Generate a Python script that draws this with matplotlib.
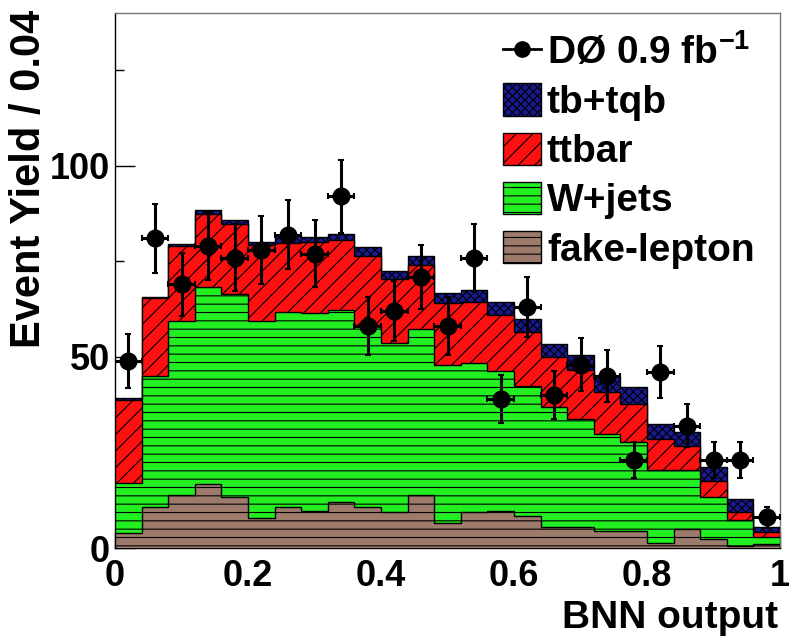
import numpy as np
import matplotlib
matplotlib.use("Agg")
import matplotlib.pyplot as plt
from matplotlib.patches import Patch
from matplotlib.lines import Line2D

# =========================================================
# Data (25 bins of BNN output, width 0.04)
# =========================================================
bin_lo, bin_hi, n_bins = 0.0, 1.0, 25

fake_lepton = [4.0, 10.7, 14.0, 16.8, 13.3, 7.9, 10.7, 9.6, 12.0, 10.7, 9.4, 14.0, 6.5,
               9.3, 9.8, 8.5, 5.6, 5.6, 4.5, 4.5, 1.2, 5.0, 2.4, 0.6, 1.0]
wjets = [13.1, 34.3, 45.4, 51.4, 53.1, 51.5, 51.1, 51.8, 50.3, 47.6, 44.3, 43.3, 41.5,
         39.1, 36.5, 34.0, 31.3, 28.2, 25.4, 23.2, 19.1, 15.3, 10.9, 6.7, 1.8]
ttbar = [21.7, 20.3, 19.6, 19.3, 18.4, 19.9, 18.0, 18.6, 18.2, 18.2, 16.7, 16.8, 16.2,
         16.0, 14.6, 14.0, 13.1, 12.7, 10.9, 9.9, 8.3, 6.3, 4.2, 2.0, 1.3]
tb_tqb = [0.4, 0.5, 0.5, 1.0, 1.1, 0.7, 2.2, 1.3, 1.7, 2.2, 2.2, 2.4, 2.4,
          3.0, 3.5, 3.5, 3.4, 3.9, 4.1, 4.5, 3.9, 3.7, 3.8, 3.5, 1.3]

data_counts = [49, 81, 69, 79, 76, 78, 82, 77, 92, 58, 62, 71, 58,
               76, 39, 63, 40, 48, 45, 23, 46, 32, 23, 23, 8]
data_err = [7.0, 9.0, 8.3, 8.9, 8.7, 8.8, 9.1, 8.8, 9.6, 7.6, 7.9, 8.4, 7.6,
            8.7, 6.2, 7.9, 6.3, 6.9, 6.7, 4.8, 6.8, 5.7, 4.8, 4.8, 2.8]

xtick_vals = [0, 0.2, 0.4, 0.6, 0.8, 1.0]
xtick_labels = ["0", "0.2", "0.4", "0.6", "0.8", "1"]
ytick_vals = [0, 50, 100]
ytick_labels = ["0", "50", "100"]

# =========================================================
# Style
# =========================================================
plt.rcParams["font.family"] = ["Liberation Sans", "DejaVu Sans"]
plt.rcParams["font.weight"] = "bold"
plt.rcParams["hatch.linewidth"] = 0.8
plt.rcParams["mathtext.fontset"] = "custom"
plt.rcParams["mathtext.rm"] = "Liberation Sans:bold"
plt.rcParams["mathtext.default"] = "rm"

C_FAKE = "#9c7a6c"
C_W = "#22ee22"
C_TT = "#ff1010"
C_TB = "#1a1a90"

edges = np.linspace(bin_lo, bin_hi, n_bins + 1)
centers = 0.5 * (edges[:-1] + edges[1:])
half_w = 0.5 * (edges[1] - edges[0])

layers = [
    (fake_lepton, C_FAKE, "--", "fake-lepton"),
    (wjets, C_W, "--", "W+jets"),
    (ttbar, C_TT, "//", "ttbar"),
    (tb_tqb, C_TB, "xxxx", "tb+tqb"),
]
cum = np.cumsum([np.array(l[0]) for l in layers], axis=0)

fig = plt.figure(figsize=(7.9, 6.4), dpi=100)
ax = fig.add_axes([115 / 790, 1 - 548 / 640, 665 / 790, 535 / 640])

# draw from the top of the stack downwards
for i in range(len(layers) - 1, -1, -1):
    vals, col, hatch, _ = layers[i]
    ax.stairs(cum[i], edges, baseline=0, fill=True, facecolor=col,
              edgecolor="black", hatch=hatch, linewidth=1.0, zorder=2 + (4 - i))

ax.errorbar(centers, data_counts, yerr=data_err, xerr=half_w, fmt="o",
            color="black", ms=12, elinewidth=2.2, capsize=2.5, capthick=1.5,
            zorder=10)

ax.set_xlim(bin_lo, bin_hi)
ax.set_ylim(0, 140)
ax.set_xticks(xtick_vals)
ax.set_xticklabels(xtick_labels)
ax.set_xticks(np.arange(0.1, 1.0, 0.2), minor=True)
ax.set_yticks(ytick_vals)
ax.set_yticklabels(ytick_labels)
ax.set_yticks([25, 75, 125], minor=True)

ax.tick_params(axis="x", which="major", direction="in", length=11.5, width=1,
               labelsize=26, pad=8)
ax.tick_params(axis="x", which="minor", direction="in", length=5.8, width=1)
ax.tick_params(axis="y", which="major", direction="in", length=14.4, width=1,
               labelsize=26, pad=3.5)
ax.tick_params(axis="y", which="minor", direction="in", length=6.5, width=1)

for s in ["top", "right"]:
    ax.spines[s].set_color("#777777")
    ax.spines[s].set_linewidth(1.0)
for s in ["left", "bottom"]:
    ax.spines[s].set_linewidth(1.0)

fig.text(29 / 790, 1 - 10 / 640, "Event Yield / 0.04", rotation=90,
         ha="center", va="top", fontsize=30, fontweight="bold")
fig.text(778 / 790, 1 - 628 / 640, "BNN output", ha="right", va="baseline",
         fontsize=28, fontweight="bold")

# =========================================================
# Legend
# =========================================================
handles = [Line2D([], [], color="black", marker="o", ms=11, lw=2)]
labels = ["D\u00d8 0.9 fb$^{-1}$"]
for vals, col, hatch, name in layers[::-1]:
    handles.append(Patch(facecolor=col, edgecolor="black", hatch=hatch, lw=1.0))
    labels.append(name)

ax.legend(handles, labels, loc="upper left",
          bbox_to_anchor=(503 / 790, 1 - 33 / 640), bbox_transform=fig.transFigure,
          frameon=False, fontsize=28, borderpad=0, borderaxespad=0,
          handlelength=0.98, handleheight=0.9, handletextpad=0.15,
          labelspacing=0.3)

fig.savefig("out.png", dpi=100)
